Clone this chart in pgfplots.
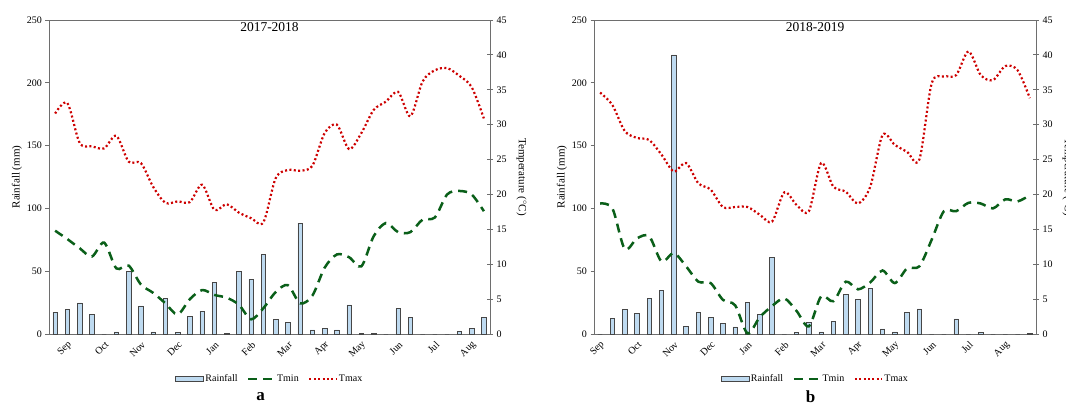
\documentclass[border=0pt]{standalone}
\usepackage{pgfplots}
\pgfplotsset{compat=1.18}
\usepackage{pgfplotstable}
\usepackage{fontspec}
\setmainfont{Liberation Serif}

\definecolor{rainfill}{RGB}{190,218,240}
\definecolor{raindraw}{RGB}{70,70,70}
\definecolor{tminc}{RGB}{10,95,25}
\definecolor{tmaxc}{RGB}{205,0,0}
\definecolor{axgray}{RGB}{110,110,110}

% dekad, rainfall (mm), Tmin, Tmax (deg C)
\pgfplotstableread{
d rain tmin tmax
1 17.5 14.8 31.6
2 19.4 13.6 33.1
3 24.7 12.3 27.4
4 15.6 11.1 26.9
5 0 13.1 26.6
6 1.6 9.4 28.4
7 49.8 9.8 24.7
8 22.3 7.1 24.5
9 1.6 5.9 21.1
10 28.6 4.4 18.8
11 1.0 2.8 19.0
12 13.8 5.0 18.9
13 18.3 6.3 21.4
14 41.4 5.6 17.8
15 0.3 5.2 18.6
16 49.8 4.2 17.4
17 43.7 2.1 16.6
18 63.4 3.7 16.0
19 11.9 6.0 22.3
20 9.5 7.0 23.5
21 88.3 4.4 23.4
22 3.2 5.5 24.1
23 4.2 9.5 28.8
24 3.2 11.4 30.0
25 23.1 11.0 26.5
26 0.2 9.7 28.8
27 0.5 14.0 32.1
28 0 15.9 33.3
29 20.1 14.6 34.7
30 13.3 14.6 31.2
31 0 16.4 36.2
32 0 16.7 37.8
33 0 20.0 38.1
34 2.1 20.5 37.0
35 4.5 20.0 35.4
36 13.0 17.6 30.9
}\seasonA

\pgfplotstableread{
d rain tmin tmax
1 0 18.7 34.6
2 12.2 18.0 32.8
3 19.4 12.2 29.1
4 16.7 13.7 28.1
5 28.4 14.0 27.8
6 34.5 10.4 25.7
7 222.2 11.6 23.3
8 5.8 9.7 24.5
9 17.5 7.5 21.6
10 13.5 7.3 20.7
11 8.2 4.9 18.2
12 5.6 4.1 18.2
13 25.2 0.1 18.2
14 15.9 2.4 17.1
15 61.2 4.0 16.1
16 0 5.1 20.3
17 1.0 3.3 18.5
18 9.3 1.1 17.6
19 1.6 5.4 24.5
20 9.8 4.7 21.1
21 31.3 7.5 20.4
22 27.3 6.4 18.7
23 36.6 7.4 21.1
24 4.0 9.1 28.5
25 1.6 7.3 27.1
26 17.0 9.4 26.1
27 20.0 9.7 25.0
28 0 13.5 35.9
29 0 17.6 36.9
30 12.0 17.6 37.1
31 0 18.8 40.5
32 1.0 18.7 37.1
33 0 18.0 36.4
34 0 19.3 38.4
35 0 19.0 37.8
36 0.5 19.9 33.8
}\seasonB

\pgfplotsset{
  panel/.style={scale only axis, width=#1, height=314pt, anchor=south west,
    xmin=0.5, xmax=36.5, clip mode=individual,
    font=\fontsize{10}{12}\selectfont,
    /pgf/number format/assume math mode=true},
  rainax/.style={ymin=0, ymax=250, ytick={0,50,...,250},
    ytick pos=left, xtick pos=bottom, tick align=outside,
    major tick length=3.5pt,
    axis line style={draw=axgray, line width=0.8pt},
    ytick style={draw=axgray, line width=0.8pt},
    xtick style={draw=none},
    xticklabel style={rotate=45, anchor=east, inner sep=1pt, yshift=-6pt, xshift=-1pt},
    ylabel={Rainfall (mm)},
    every axis y label/.style={at={(axis description cs:0,0.5)}, xshift=-32pt,
      rotate=90, anchor=center, font=\fontsize{11}{13}\selectfont},
    title style={at={(axis description cs:0.5,1)}, anchor=center, yshift=-13pt,
      font=\fontsize{13.5}{15}\selectfont}},
  tempax/.style={ymin=0, ymax=45, ytick={0,5,...,45},
    axis y line*=right, axis x line=none, tick align=center,
    major tick length=6pt,
    axis line style={draw=axgray, line width=0.8pt},
    ytick style={draw=axgray, line width=0.8pt},
    ylabel={Temperature ($^{\circ}$C)},
    every axis y label/.style={at={(axis description cs:1,0.5)}, xshift=31.5pt,
      rotate=-90, anchor=center, font=\fontsize{11}{13}\selectfont},
    legend style={at={(axis description cs:0.5,-0.143)}, anchor=center, draw=none,
      fill=none, legend columns=-1, font=\fontsize{10}{12}\selectfont,
      inner sep=0pt, nodes={inner xsep=1.5pt},
      /tikz/every even column/.append style={column sep=8pt}}},
  rainbar/.style={ybar, bar width=4.5pt, fill=rainfill, draw=raindraw, line width=0.7pt},
  tminline/.style={tminc, line width=2.5pt, dash pattern=on 9pt off 6pt, smooth,
    legend image code/.code={\draw[##1] (0pt,0pt) -- (26pt,0pt);}},
  tmaxline/.style={tmaxc, line width=2.2pt, dash pattern=on 2pt off 2.4pt, smooth,
    legend image code/.code={\draw[##1] (0pt,0pt) -- (27pt,0pt);}},
  rainlegend/.style={fill=rainfill, draw=raindraw, line width=0.7pt,
    legend image code/.code={\draw[##1] (0pt,-2.3pt) rectangle (28pt,2.3pt);}}
}

\begin{document}
\begin{tikzpicture}
\path[use as bounding box] (0pt,0pt) rectangle (1066pt,405pt);

% ---- panel a: 2017-2018
\begin{axis}[panel=441pt, rainax, at={(49pt,71pt)}, name=ra, title={2017-2018},
    xtick={2,5,...,35},
    xticklabels={Sep,Oct,Nov,Dec,Jan,Feb,Mar,Apr,May,Jun,Jul,Aug}]
\addplot[rainbar] table[x=d, y=rain] {\seasonA};
\node[font=\bfseries\fontsize{17}{19}\selectfont] at (rel axis cs:0.48,-0.2) {a};
\end{axis}
\begin{axis}[panel=441pt, tempax, at={(ra.south west)}]
\addlegendimage{rainlegend}
\addlegendentry{Rainfall}
\addplot[tminline] table[x=d, y=tmin] {\seasonA};
\addlegendentry{Tmin}
\addplot[tmaxline] table[x=d, y=tmax] {\seasonA};
\addlegendentry{Tmax}
\end{axis}

% ---- panel b: 2018-2019
\begin{axis}[panel=442pt, rainax, at={(594pt,71pt)}, name=rb, title={2018-2019},
    xtick={1,4,...,34},
    xticklabels={Sep,Oct,Nov,Dec,Jan,Feb,Mar,Apr,May,Jun,Jul,Aug}]
\addplot[rainbar] table[x=d, y=rain] {\seasonB};
\node[font=\bfseries\fontsize{17}{19}\selectfont] at (rel axis cs:0.49,-0.2) {b};
\end{axis}
\begin{axis}[panel=442pt, tempax, at={(rb.south west)}]
\addlegendimage{rainlegend}
\addlegendentry{Rainfall}
\addplot[tminline] table[x=d, y=tmin] {\seasonB};
\addlegendentry{Tmin}
\addplot[tmaxline] table[x=d, y=tmax] {\seasonB};
\addlegendentry{Tmax}
\end{axis}
\end{tikzpicture}
\end{document}
